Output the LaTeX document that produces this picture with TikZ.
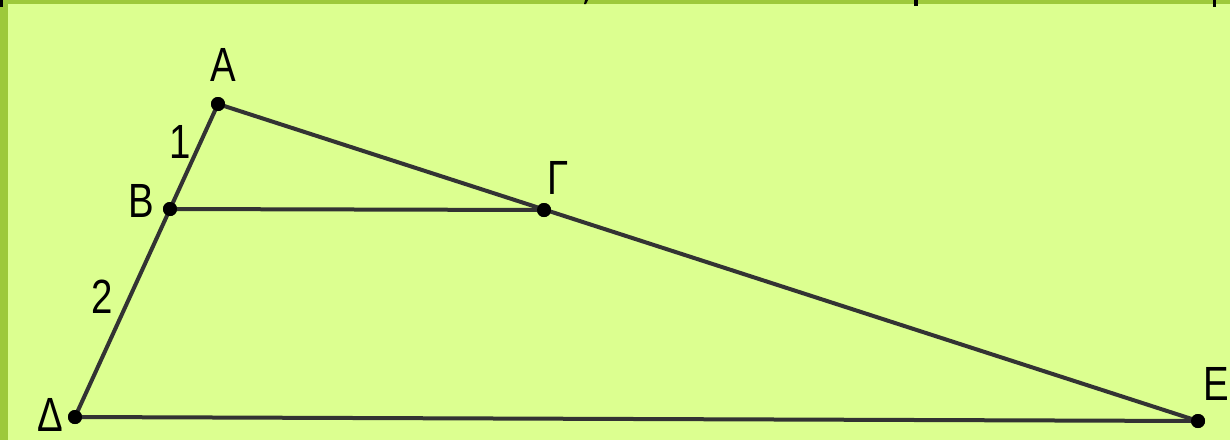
\documentclass[tikz,border=0pt]{standalone}
\usepackage{fontspec}
\setmainfont{Liberation Sans}[FakeStretch=0.8]
\definecolor{frame}{HTML}{9DC93B}
\definecolor{paper}{HTML}{DCFF90}
\definecolor{ink}{HTML}{333333}
\begin{document}
\begin{tikzpicture}[x=1pt,y=-1pt,
  seg/.style={draw=ink,line width=4pt},
  pt/.style={circle,fill=black,inner sep=0pt,minimum size=14pt},
  lab/.style={font=\fontsize{48}{48}\selectfont,inner sep=0pt,text=black}]
\useasboundingbox (0,0) rectangle (1230,440);
\fill[frame] (0,0) rectangle (1230,440);
\fill[paper] (8,4) rectangle (1230,440);
% small marks on the top edge
\fill[black] (0,0) rectangle (3,7);
\fill[black] (585,0) -- (588,0) -- (586,4) -- (584,4) -- cycle;
\fill[black] (914,0) rectangle (918,6);
\fill[black] (1213,0) rectangle (1216,7);
% points
\node[pt] (A) at (218,104) {};
\node[pt] (B) at (170,209) {};
\node[pt] (G) at (544,210) {};
\node[pt] (D) at (75,417) {};
\node[pt] (E) at (1198,421) {};
% segments
\draw[seg] (A.center) -- (D.center);
\draw[seg] (A.center) -- (E.center);
\draw[seg] (B.center) -- (G.center);
\draw[seg] (D.center) -- (E.center);
\foreach \p in {A,B,G,D,E} \fill[black] (\p) circle (7pt);
% labels
\node[lab] (lA) at (223,65) {A};
\node[lab] (l1) at (180,142) {1};
\node[lab] (lB) at (141,201) {B};
\node[lab] (lG) at (558,178) {Γ};
\node[lab] (l2) at (102,297) {2};
\node[lab] (lD) at (50,415) {Δ};
\node[lab] (lE) at (1216,384) {E};
\end{tikzpicture}
\end{document}
